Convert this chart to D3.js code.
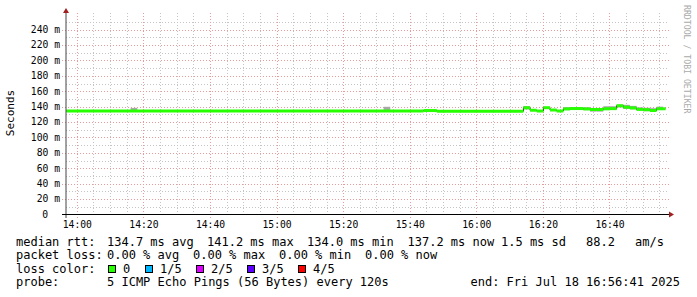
<!DOCTYPE html>
<html>
<head>
<meta charset="utf-8">
<script src="https://cdn.jsdelivr.net/npm/d3@7"></script>
<style>
  body { margin: 0; background: #fff; }
  text { font-family: "DejaVu Sans Mono", monospace; }
</style>
</head>
<body>
<svg id="chart" width="697" height="297"></svg>
<script>
// median rtt (ms) as a step series: value holds from each start time to the next
let rttStart  = ["13:56:41", "15:44:00", "15:48:00", "16:14:00", "16:16:00", "16:18:00", "16:20:00",
                 "16:22:00", "16:24:00", "16:26:00", "16:28:00", "16:32:00", "16:34:00", "16:38:00",
                 "16:40:00", "16:42:00", "16:44:00", "16:46:00", "16:48:00", "16:50:00", "16:52:00",
                 "16:54:00"];
let rttMedian = [134.4, 134.9, 134.0, 138.5, 135.3, 134.3, 138.6,
                 135.6, 134.3, 137.0, 137.5, 137.0, 136.3, 137.2,
                 137.4, 141.2, 139.2, 138.3, 136.4, 136.0, 135.0,
                 137.2];
let rttEnd = "16:56:41";

// smoke (spread of the 5 pings) where it shows, 2 min each
let smokeStart = ["14:16", "15:32", "16:14", "16:26", "16:28", "16:30", "16:32", "16:34", "16:36",
                  "16:38", "16:40", "16:42", "16:44", "16:46", "16:48", "16:50", "16:52", "16:54"];
let smokeLo    = [134.0, 134.0, 136.5, 135.5, 136.0, 136.0, 135.5, 133.5, 133.5,
                  135.5, 136.0, 139.0, 137.0, 136.5, 135.0, 134.0, 134.0, 136.0];
let smokeHi    = [138.3, 139.8, 140.8, 139.3, 139.3, 139.3, 139.0, 138.2, 138.2,
                  140.5, 140.5, 142.5, 142.3, 141.0, 139.0, 138.5, 138.0, 140.0];

let xTicks = ["14:00", "14:20", "14:40", "15:00", "15:20", "15:40", "16:00", "16:20", "16:40"];
let yTicks = [0, 20, 40, 60, 80, 100, 120, 140, 160, 180, 200, 220, 240];

let medianStats = ["134.7 ms avg", "141.2 ms max", "134.0 ms min", "137.2 ms now", "1.5 ms sd", "88.2", "am/s"];
let lossStats   = ["0.00 % avg", "0.00 % max", "0.00 % min", "0.00 % now"];
let lossNames   = ["0", "1/5", "2/5", "3/5", "4/5"];
let lossColors  = ["#26ff00", "#00b8ff", "#dd00ff", "#5e00ff", "#ff0000"];
let probeText   = "5 ICMP Echo Pings (56 Bytes) every 120s";
let endText     = "end: Fri Jul 18 16:56:41 2025";

const parse = d3.timeParse("%H:%M:%S");
const t = s => parse(s.length === 5 ? s + ":00" : s);

const svg = d3.select("#chart");

const x = d3.scaleTime()
  .domain([t("13:56:41"), t("16:56:41")])
  .range([66.3, 665.5]);
const y = d3.scaleLinear()
  .domain([0, 261.5])
  .range([214.5, 13]);

// grid
const grid = svg.append("g");
const minorY = d3.range(10, 260, 10).filter(v => v % 20 !== 0);
grid.selectAll(".hmin").data(minorY).enter().append("line")
  .attr("x1", 66).attr("x2", 669)
  .attr("y1", d => Math.round(y(d)) + 0.5).attr("y2", d => Math.round(y(d)) + 0.5)
  .attr("stroke", "#c4c4c4").attr("stroke-dasharray", "1,2");
const minorX = d3.timeMinute.every(5).range(t("14:00"), t("16:56"))
  .filter(d => d.getMinutes() % 20 !== 0);
grid.selectAll(".vmin").data(minorX).enter().append("line")
  .attr("x1", d => Math.floor(x(d)) + 0.5).attr("x2", d => Math.floor(x(d)) + 0.5)
  .attr("y1", 13).attr("y2", 215)
  .attr("stroke", "#c4c4c4").attr("stroke-dasharray", "1,2");
grid.selectAll(".hmaj").data(yTicks.slice(1)).enter().append("line")
  .attr("x1", 62).attr("x2", 669)
  .attr("y1", d => Math.round(y(d)) + 0.5).attr("y2", d => Math.round(y(d)) + 0.5)
  .attr("stroke", "#e99a9a").attr("stroke-dasharray", "1,2");
grid.selectAll(".vmaj").data(xTicks).enter().append("line")
  .attr("x1", d => Math.floor(x(t(d))) + 0.5).attr("x2", d => Math.floor(x(t(d))) + 0.5)
  .attr("y1", 13).attr("y2", 218)
  .attr("stroke", "#e99a9a").attr("stroke-dasharray", "1,2");

// smoke
svg.append("g").selectAll("rect")
  .data(smokeStart)
  .enter()
  .append("rect")
  .attr("x", d => x(t(d)))
  .attr("width", d => x(d3.timeMinute.offset(t(d), 2)) - x(t(d)))
  .attr("y", (d, i) => y(smokeHi[i]))
  .attr("height", (d, i) => y(smokeLo[i]) - y(smokeHi[i]))
  .attr("fill", "#a8a8a8");

// median: dark step line, then green loss-coloured segments on top
const pts = rttStart.map((s, i) => [t(s), rttMedian[i]]);
pts.push([t(rttEnd), rttMedian[rttMedian.length - 1]]);
svg.append("path")
  .datum(pts)
  .attr("d", d3.line().x(d => x(d[0])).y(d => y(d[1])).curve(d3.curveStepAfter))
  .attr("fill", "none")
  .attr("stroke", "#202020")
  .attr("stroke-width", 1);
svg.append("g").selectAll("line")
  .data(rttStart)
  .enter()
  .append("line")
  .attr("x1", d => x(t(d)))
  .attr("x2", (d, i) => x(t(i + 1 < rttStart.length ? rttStart[i + 1] : rttEnd)))
  .attr("y1", (d, i) => y(rttMedian[i]))
  .attr("y2", (d, i) => y(rttMedian[i]))
  .attr("stroke", lossColors[0])
  .attr("stroke-width", 3);

// axes
svg.append("line").attr("x1", 66).attr("x2", 66).attr("y1", 12).attr("y2", 218)
  .attr("stroke", "#444");
svg.append("line").attr("x1", 62).attr("x2", 670).attr("y1", 214.5).attr("y2", 214.5)
  .attr("stroke", "#000");
svg.append("path").attr("d", "M63,13L69,13L66,8Z").attr("fill", "#a02020");
svg.append("path").attr("d", "M669,211.5L669,217.5L674,214.5Z").attr("fill", "#a02020");

svg.append("g").selectAll("text")
  .data(yTicks)
  .enter()
  .append("text")
  .attr("x", d => d === 0 ? 48 : 60)
  .attr("y", d => y(d) + 3.4)
  .attr("text-anchor", "end")
  .attr("font-size", 9.7)
  .text(d => d === 0 ? "0" : d + " m");

svg.append("g").selectAll("text")
  .data(xTicks)
  .enter()
  .append("text")
  .attr("x", d => x(t(d)))
  .attr("y", 228)
  .attr("text-anchor", "middle")
  .attr("font-size", 9.7)
  .text(d => d);

svg.append("text")
  .attr("transform", "translate(14,113) rotate(-90)")
  .attr("text-anchor", "middle")
  .attr("font-size", 11)
  .text("Seconds");

svg.append("text")
  .attr("transform", "translate(684,5) rotate(90)")
  .attr("font-size", 8.2)
  .attr("fill", "#aaaaaa")
  .text("RRDTOOL / TOBI OETIKER");

// legend
const fs = 12;
const leg = svg.append("g").attr("font-size", fs).attr("fill", "#000");
leg.append("text").attr("x", 16).attr("y", 245.5).text("median rtt:");
const medX = [107, 207, 307, 407.5, 501, 586, 635];
medianStats.forEach((s, i) => leg.append("text").attr("x", medX[i]).attr("y", 245.5).text(s));

leg.append("text").attr("x", 16).attr("y", 259).text("packet loss:");
const lossX = [107, 193, 279, 365];
lossStats.forEach((s, i) => leg.append("text").attr("x", lossX[i]).attr("y", 259).text(s));

leg.append("text").attr("x", 16).attr("y", 272.5).text("loss color:");
const boxX = [108.5, 145.5, 196.5, 247.5, 298.5];
lossNames.forEach((s, i) => {
  leg.append("rect").attr("x", boxX[i]).attr("y", 265.5).attr("width", 7).attr("height", 7)
    .attr("fill", lossColors[i]).attr("stroke", "#000").attr("stroke-width", 1);
  leg.append("text").attr("x", boxX[i] + 14.5).attr("y", 272.5).text(s);
});

leg.append("text").attr("x", 16).attr("y", 286).text("probe:");
leg.append("text").attr("x", 107).attr("y", 286).text(probeText);
leg.append("text").attr("x", 680).attr("y", 286).attr("text-anchor", "end").text(endText);
</script>
</body>
</html>
